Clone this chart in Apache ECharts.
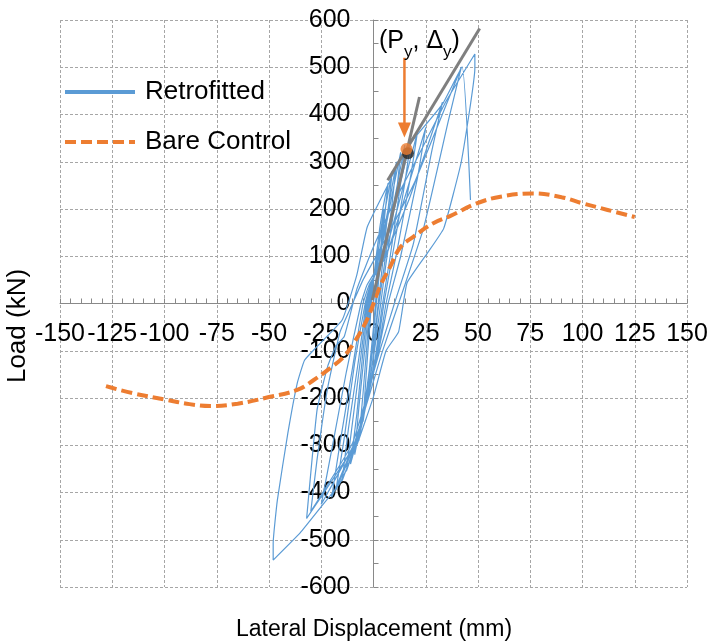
<!DOCTYPE html>
<html>
<head>
<meta charset="utf-8">
<script src="https://cdn.jsdelivr.net/npm/echarts@6/dist/echarts.min.js"></script>
<style>html,body{margin:0;padding:0;background:#fff}#c{width:712px;height:644px}</style>
</head>
<body>
<div id="c"></div>
<script>
// ---- data ----
const xTicks = {min: -150, max: 150, interval: 25};
const yTicks = {min: -600, max: 600, interval: 100};

const cycle0 = [[0,0],[1.5,60],[3,140],[5,200],[3.5,120],[1.5,30],[0,-50],[-2,-140],[-4,-220],[-5,-250],[-3.5,-150],[-2,-60],[-1,0]];
const cycle1 = [[0.5,70],[3,160],[5.5,225],[7,255],[5,170],[2.5,50],[0.5,-40],[-2,-140],[-5,-240],[-7,-290],[-5,-190],[-3,-80],[-1.5,0]];
const cycle2 = [[0,50],[2.5,120],[6,210],[9,280],[7,200],[4,70],[1.5,-30],[-1,-120],[-5,-230],[-9,-320],[-7,-220],[-4,-90],[-2,0]];
const cycle3 = [[-0.5,40],[3,110],[7,200],[11,300],[9,215],[5,75],[2,-20],[0,-110],[-5,-240],[-11,-340],[-8,-235],[-5,-100],[-2.5,0]];
const cycle4 = [[-1,40],[4,120],[8,210],[13,320],[11,235],[6,85],[3,-15],[0,-115],[-6,-265],[-13,-355],[-10,-250],[-6,-110],[-3,0]];
const cycle5 = [[-0.5,45],[5,120],[10,220],[15,335],[13,255],[8,100],[4,-10],[1,-110],[-6,-265],[-15,-375],[-12,-265],[-7,-115],[-3.5,0]];
const cycle6 = [[-1,40],[5,110],[11,220],[18,350],[15,255],[9,100],[5,0],[1,-120],[-7,-275],[-18,-395],[-14,-285],[-9,-125],[-4,0]];
const cycle7 = [[-1.5,40],[5,100],[12,210],[21,362],[18,275],[11,105],[6,0],[2,-105],[-7,-270],[-20,-410],[-16,-295],[-10,-135],[-5,0]];
const cycle8 = [[-2,40],[6,100],[14,210],[25,372],[21,265],[13,100],[7,0],[2,-110],[-8,-285],[-25,-425],[-20,-310],[-13,-145],[-6,0]];
const cycle9 = [[-3,40],[6,105],[17,220],[33,426],[28,325],[19,125],[10,0],[3,-100],[-10,-295],[-30,-440],[-27,-330],[-22,-180],[-16,-60],[-10,0]];
const cycle10 = [[-5,50],[5,130],[20,260],[42,500],[36,390],[24,160],[12,0],[4,-105],[-10,-305],[-32,-455],[-27,-225],[-22,-134],[-18,-90],[-14,-70],[-8,30],[0,120],[8,198],[20,300],[35,430],[48.5,528]];
const cycle11 = [[48.5,498],[42,300],[33.6,159],[25.7,106],[16,43],[12,-60],[6,-100],[0,-197],[-8,-300],[-16,-380],[-25,-430],[-35,-485],[-48,-543],[-48,-507],[-46,-416],[-41,-275],[-36.5,-169],[-33,-120],[-27,-91],[-15,-35],[-8,60],[-3,162],[8,261],[13,311],[20,352],[33,422],[42.4,501],[46.4,219]];

const bareControl = [[-128,-175],[-115,-190],[-100,-203],[-88,-213],[-78,-217],[-65,-212],[-50,-198],[-36.5,-183],[-28.6,-162],[-22,-141],[-14.3,-113],[-9.5,-84],[-4.8,-49],[-1.7,-20],[3,35],[8,78],[12.7,118],[19,141],[28.6,170],[36.6,185],[49.4,212],[60.7,226],[76,233],[90,225],[100,212],[112,198],[125,183]];

const initialStiffness = [[-0.6,7],[22,437]];
const postYieldStiffness = [[6.8,261],[50.8,582]];
const yieldPoint = [15.8,327];
const yieldShadow = [16.5,318];
const arrowLine = [[14.8,520],[14.8,367]];

const retrofitted = [].concat(cycle0,cycle1,cycle2,cycle3,cycle4,cycle5,cycle6,cycle7,cycle8,cycle9,cycle10,cycle11);

// ---- chart ----
const FONT = "'Liberation Sans', Arial, sans-serif";
const BLUE = '#5B9BD5', ORANGE = '#ED7D31', GRAY = '#7F7F7F';
const GRID = {left: 60, right: 25, top: 20, bottom: 57};
const W = 712, H = 644;
const plotW = W - GRID.left - GRID.right, plotH = H - GRID.top - GRID.bottom;
// shift axes from the grid edge to the zero line
const yAxisOffset = -plotW * (0 - xTicks.min) / (xTicks.max - xTicks.min);
const xAxisOffset = -plotH * (0 - yTicks.min) / (yTicks.max - yTicks.min);

const chart = echarts.init(document.getElementById('c'), null, {renderer: 'canvas'});
const noSymbol = {color: 'rgba(0,0,0,0)', borderColor: 'rgba(0,0,0,0)', borderWidth: 0};
const legendCommon = {
  orient: 'vertical', left: 63, padding: 0, itemWidth: 70, itemHeight: 14, selectedMode: false,
  textStyle: {fontSize: 26, color: '#000', fontFamily: FONT, padding: [0,0,0,5]}
};
chart.setOption({
  animation: false,
  backgroundColor: '#fff',
  grid: Object.assign({containLabel: false, outerBoundsMode: 'none'}, GRID),
  legend: [
    Object.assign({}, legendCommon, {top: 79, data: [{name: 'Retrofitted', lineStyle: {width: 4}, itemStyle: noSymbol}]}),
    Object.assign({}, legendCommon, {top: 129, data: [{name: 'Bare Control', lineStyle: {width: 4}, itemStyle: noSymbol}]})
  ],
  xAxis: {
    type: 'value', min: xTicks.min, max: xTicks.max, interval: xTicks.interval,
    position: 'bottom', offset: xAxisOffset,
    axisLine: {onZero: false, lineStyle: {color: '#898989', width: 1}},
    axisTick: {show: true, inside: true, length: 5, lineStyle: {color: '#898989'}},
    minorTick: {show: true, splitNumber: 5, length: 5, lineStyle: {color: '#898989'}},
    axisLabel: {fontSize: 25, color: '#000', fontFamily: FONT, margin: 18},
    splitLine: {show: true, lineStyle: {color: '#A6A6A6', type: [3,2], width: 1}}
  },
  yAxis: {
    type: 'value', min: yTicks.min, max: yTicks.max, interval: yTicks.interval,
    position: 'left', offset: yAxisOffset,
    axisLine: {onZero: false, lineStyle: {color: '#898989', width: 1}},
    axisTick: {show: true, inside: true, length: 5, lineStyle: {color: '#898989'}},
    minorTick: {show: true, splitNumber: 2, length: 5, lineStyle: {color: '#898989'}},
    axisLabel: {fontSize: 25, color: '#000', fontFamily: FONT, margin: 23},
    splitLine: {show: true, lineStyle: {color: '#A6A6A6', type: [3,2], width: 1}}
  },
  graphic: [
    {type: 'text', x: 374, y: 630, style: {text: 'Lateral Displacement (mm)', fontSize: 23, fontFamily: FONT, fill: '#000', align: 'center', verticalAlign: 'middle'}},
    {type: 'text', x: 18, y: 326, rotation: Math.PI / 2, style: {text: 'Load (kN)', fontSize: 26, fontFamily: FONT, fill: '#000', align: 'center', verticalAlign: 'middle'}},
    {type: 'text', x: 379, y: 24, z: 100, style: {
      text: '{n|(P}{s|y}{n|, Δ}{s|y}{n|)}', fill: '#000', fontFamily: FONT,
      rich: {n: {fontSize: 25, fontFamily: FONT, lineHeight: 30, verticalAlign: 'bottom'}, s: {fontSize: 17, fontFamily: FONT, lineHeight: 30, verticalAlign: 'bottom', padding: [0,0,-7,0]}}
    }}
  ],
  series: [
    {name: 'Retrofitted', type: 'line', data: retrofitted, symbol: 'none', smooth: 0.12, z: 2,
      lineStyle: {color: BLUE, width: 1.2}, itemStyle: {color: BLUE}},
    {name: 'Bare Control', type: 'line', data: bareControl, symbol: 'none', smooth: 0.4, z: 3,
      lineStyle: {color: ORANGE, width: 4, type: [11,5], cap: 'butt'}, itemStyle: {color: ORANGE}},
    {name: 'k1', type: 'line', data: initialStiffness, symbol: 'none', z: 4, lineStyle: {color: GRAY, width: 3}},
    {name: 'k2', type: 'line', data: postYieldStiffness, symbol: 'none', z: 4, lineStyle: {color: GRAY, width: 3}},
    {name: 'shadow', type: 'scatter', data: [yieldShadow], symbolSize: 12, z: 5, itemStyle: {color: '#262626'}},
    {name: 'yield', type: 'scatter', data: [yieldPoint], symbolSize: 12, z: 6, itemStyle: {color: ORANGE}},
    {name: 'arrow', type: 'line', z: 6, lineStyle: {color: ORANGE, width: 2.5}, itemStyle: {color: ORANGE},
      data: [{value: arrowLine[0], symbol: 'none'}, {value: arrowLine[1], symbol: 'triangle', symbolRotate: 180, symbolSize: [13, 15]}],
      showSymbol: true, showAllSymbol: true}
  ]
});
</script>
</body>
</html>
